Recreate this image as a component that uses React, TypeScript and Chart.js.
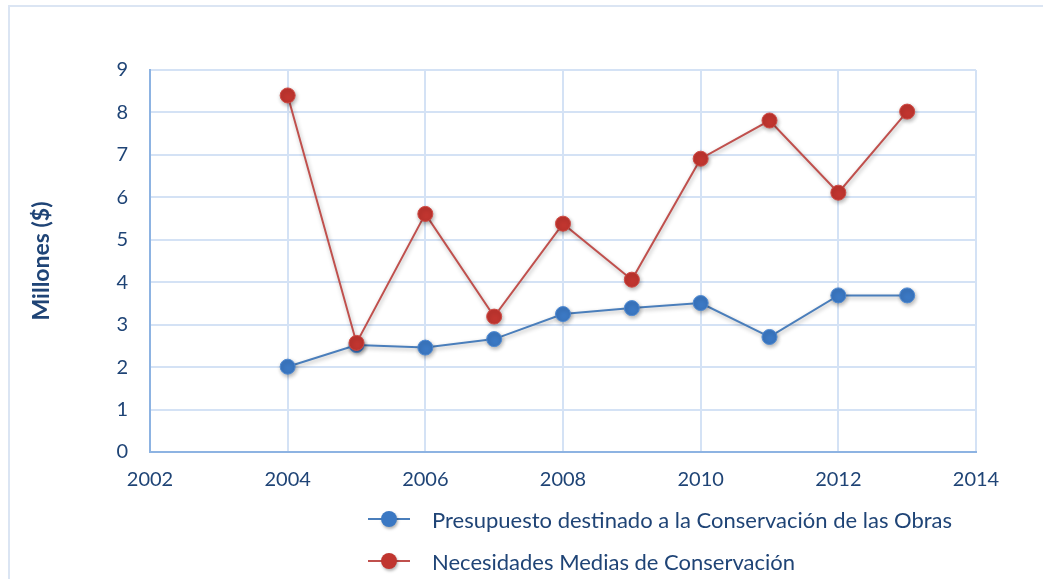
import React, { useEffect, useRef } from "react";
import { Chart, registerables } from "chart.js";

Chart.register(...registerables);

const years = [2004, 2005, 2006, 2007, 2008, 2009, 2010, 2011, 2012, 2013];
const presupuesto = [2.01, 2.52, 2.46, 2.66, 3.25, 3.39, 3.51, 2.71, 3.69, 3.69];
const necesidades = [8.4, 2.57, 5.61, 3.19, 5.38, 4.06, 6.91, 7.81, 6.11, 8.02];
const seriesNames = [
  "Presupuesto destinado a la Conservación de las Obras",
  "Necesidades Medias de Conservación",
];
const yTitle = "Millones ($)";

const BLUE = "#3b78c3";
const BLUE_LINE = "#4a7ebb";
const RED = "#c0352f";
const RED_LINE = "#c0504d";
const TEXT = "#1f4476";
const GRID = "#d4e2f5";
const AXIS = "#8db3e2";
const FONT = "Lato, 'Noto Sans', sans-serif";

const shadowPlugin = {
  id: "shadow",
  beforeDatasetsDraw(chart: any) {
    const ctx = chart.ctx;
    ctx.save();
    ctx.shadowColor = "rgba(0,0,0,0.3)";
    ctx.shadowBlur = 4;
    ctx.shadowOffsetX = 1;
    ctx.shadowOffsetY = 2;
  },
  afterDatasetsDraw(chart: any) {
    chart.ctx.restore();
  },
};

export default function App() {
  const ref = useRef<HTMLCanvasElement | null>(null);

  useEffect(() => {
    if (!ref.current) return;
    const chart = new Chart(ref.current, {
      type: "line",
      data: {
        datasets: [
          {
            label: seriesNames[0],
            data: years.map((x, i) => ({ x, y: presupuesto[i] })),
            borderColor: BLUE_LINE,
            backgroundColor: BLUE,
            pointBackgroundColor: BLUE,
            pointBorderColor: "#4f8ad3",
            pointBorderWidth: 1,
            pointRadius: 7.5,
            borderWidth: 2,
            order: 1,
          },
          {
            label: seriesNames[1],
            data: years.map((x, i) => ({ x, y: necesidades[i] })),
            borderColor: RED_LINE,
            backgroundColor: RED,
            pointBackgroundColor: RED,
            pointBorderColor: "#d04a44",
            pointBorderWidth: 1,
            pointRadius: 7.5,
            borderWidth: 2,
            order: 0,
          },
        ],
      },
      options: {
        animation: false,
        responsive: false,
        layout: { padding: { top: 70, right: 67, bottom: 80, left: 0 } },
        plugins: { legend: { display: false }, tooltip: { enabled: false } },
        scales: {
          x: {
            type: "linear",
            min: 2002,
            max: 2014,
            ticks: {
              stepSize: 2,
              color: TEXT,
              font: { family: FONT, size: 20 },
              padding: 16,
              callback: (v: any) => String(v),
            },
            grid: { color: GRID, lineWidth: 2, drawTicks: false },
            border: { color: AXIS, width: 2 },
            afterFit: (s: any) => {
              s.height = 47;
            },
          },
          y: {
            min: 0,
            max: 9,
            ticks: {
              stepSize: 1,
              color: TEXT,
              font: { family: FONT, size: 20 },
              padding: 22,
            },
            grid: { color: GRID, lineWidth: 2, drawTicks: false },
            border: { color: AXIS, width: 2 },
            title: {
              display: true,
              text: yTitle,
              color: TEXT,
              font: { family: FONT, size: 23, weight: "bold" },
              padding: { top: 28, bottom: 0 },
            },
            afterFit: (s: any) => {
              s.width = 150;
            },
          },
        },
      },
      plugins: [shadowPlugin],
    });
    return () => chart.destroy();
  }, []);

  const legendItem = (color: string, lineColor: string, text: string, top: number) => (
    <div
      style={{
        position: "absolute",
        left: 368,
        top: top - 14,
        height: 28,
        display: "flex",
        alignItems: "center",
        whiteSpace: "nowrap",
      }}
    >
      <div style={{ position: "relative", width: 42, height: 28, marginRight: 22 }}>
        <div
          style={{
            position: "absolute",
            left: 0,
            top: 13,
            width: 42,
            height: 2,
            background: lineColor,
          }}
        />
        <div
          style={{
            position: "absolute",
            left: 13,
            top: 6,
            width: 16,
            height: 16,
            borderRadius: 8,
            background: color,
            boxShadow: "1px 2px 3px rgba(0,0,0,0.3)",
          }}
        />
      </div>
      <span style={{ fontFamily: FONT, fontSize: 22, color: TEXT }}>{text}</span>
    </div>
  );

  return (
    <div
      style={{
        position: "fixed",
        left: 0,
        top: 0,
        width: 1043,
        height: 579,
        background: "#fff",
        overflow: "hidden",
      }}
    >
      <div
        style={{
          position: "absolute",
          left: 8,
          top: 5,
          width: 1100,
          height: 700,
          border: "2px solid #dbe5f3",
          boxSizing: "border-box",
        }}
      />
      <canvas
        ref={ref}
        width={1043}
        height={579}
        style={{ position: "absolute", left: 0, top: 0, width: 1043, height: 579 }}
      />
      {legendItem(BLUE, BLUE_LINE, seriesNames[0], 519)}
      {legendItem(RED, RED_LINE, seriesNames[1], 561)}
    </div>
  );
}
